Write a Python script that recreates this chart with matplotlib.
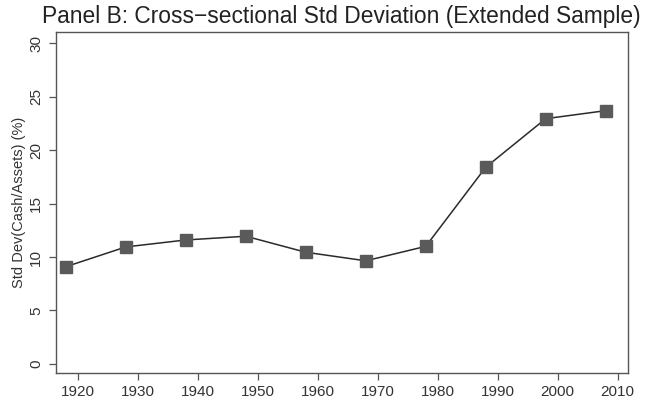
import matplotlib.pyplot as plt

# data
years = [1918, 1928, 1938, 1948, 1958, 1968, 1978, 1988, 1998, 2008]
std_dev = [9.1, 10.95, 11.6, 11.95, 10.45, 9.65, 11.0, 18.4, 22.95, 23.7]
xticks = [1920, 1930, 1940, 1950, 1960, 1970, 1980, 1990, 2000, 2010]
yticks = [0, 5, 10, 15, 20, 25, 30]

plt.rcParams['font.family'] = ['Liberation Sans', 'DejaVu Sans']

fig = plt.figure(figsize=(6.54, 4.0), dpi=100)
ax = fig.add_axes([0.0852, 0.0675, 0.8748, 0.8535])

ax.plot(years, std_dev, color='#2a2a2a', linewidth=1.1,
        marker='s', markersize=8, markerfacecolor='#5a5a5a',
        markeredgecolor='#5a5a5a', zorder=3)

ax.set_xlim(1916.3, 2011.7)
ax.set_ylim(-0.85, 31.1)
ax.set_xticks(xticks)
ax.set_yticks(yticks)
ax.set_yticklabels([str(v) for v in yticks], rotation=90, va='center')

for s in ax.spines.values():
    s.set_color('#555555')
    s.set_linewidth(1.0)
ax.tick_params(colors='#555555', labelcolor='#333333', labelsize=11,
               length=5, width=0.9, direction='out')
ax.tick_params(axis='y', pad=4)

ax.set_ylabel('Std Dev(Cash/Assets) (%)', fontsize=10.5, color='#333333',
              labelpad=2)
ax.set_title('Panel B: Cross\u2212sectional Std Deviation (Extended Sample)',
             fontsize=16.4, color='#222222', pad=6.3)

fig.savefig('out.png', dpi=100)
